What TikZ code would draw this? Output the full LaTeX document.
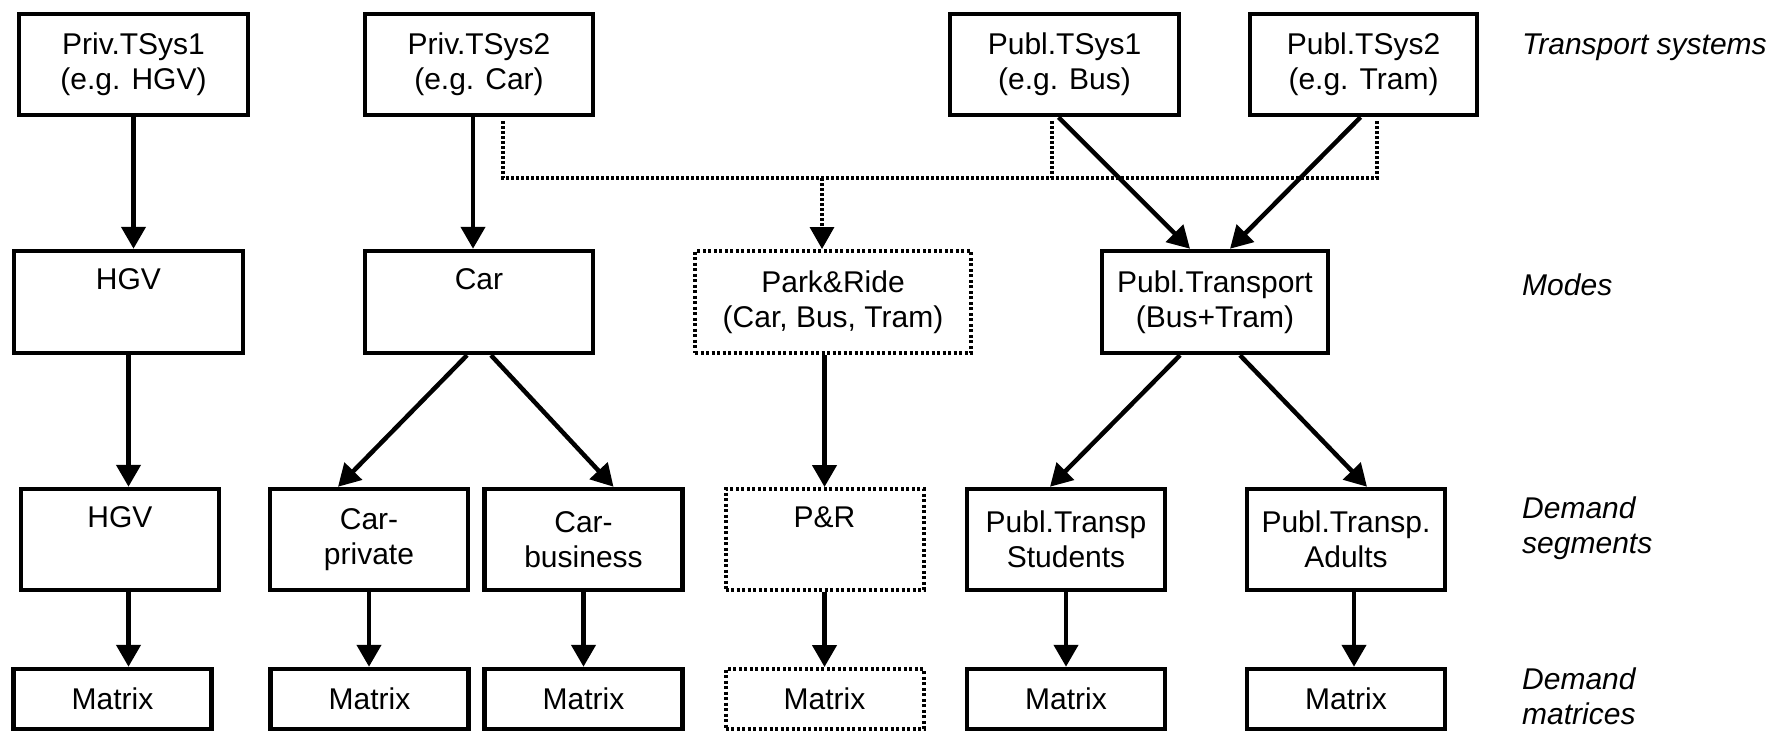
\documentclass[tikz,border=0pt]{standalone}
\usepackage{fontspec}
\setmainfont{Liberation Sans}
\usetikzlibrary{positioning,arrows.meta}
\tikzstyle{box} = [rectangle, draw=black, line width=4.5pt, inner sep=0pt, align=center]
\tikzstyle{tsys} = [box, minimum height=101pt]
\tikzstyle{mode} = [box, minimum height=102pt]
\tikzstyle{seg} = [box, minimum width=198pt, minimum height=101pt]
\tikzstyle{mat} = [box, minimum width=198pt, minimum height=60pt]
\tikzstyle{pr} = [dash pattern=on 3pt off 2.5pt, line width=4pt]
\tikzstyle{arrow} = [draw, line width=4.5pt, -{Triangle[length=22pt,width=24pt]}]
\tikzstyle{dotline} = [draw, line width=3.5pt, dash pattern=on 3pt off 2pt]
\tikzstyle{level} = [anchor=base west, align=left, inner sep=0pt, font=\fontsize{30}{35}\selectfont\itshape]

\begin{document}
\begin{tikzpicture}[x=1pt, y=-1pt]
    \tikzstyle{every node}=[font=\fontsize{30}{35}\selectfont]
    \useasboundingbox (0,0) rectangle (1787,733);

    % transport systems
    \node (tsysA) [tsys, minimum width=229pt] at (133.5,64.5) {Priv.TSys1\\(e.g. HGV)};
    \node (tsysB) [tsys, minimum width=228pt] at (479,64.5) {Priv.TSys2\\(e.g. Car)};
    \node (tsysC) [tsys, minimum width=229pt] at (1064.5,64.5) {Publ.TSys1\\(e.g. Bus)};
    \node (tsysD) [tsys, minimum width=227pt] at (1363.5,64.5) {Publ.TSys2\\(e.g. Tram)};

    % modes
    \node (modeHGV) [mode, minimum width=229pt] at (128.5,302) {HGV\\\strut};
    \node (modeCar) [mode, minimum width=228pt] at (479,302) {Car\\\strut};
    \node (modePR) [mode, pr, minimum width=276pt] at (833,302) {Park\&Ride\\(Car, Bus, Tram)};
    \node (modePT) [mode, minimum width=226pt] at (1215,302) {Publ.Transport\\(Bus+Tram)};

    % demand segments
    \node (segHGV) [seg] at (120,539.5) {HGV\\\strut};
    \node (segCarP) [seg] at (369,539.5) {Car-\\private};
    \node (segCarB) [seg] at (583.5,539.5) {Car-\\business};
    \node (segPR) [seg, pr] at (824.5,539.5) {P\&R\\\strut};
    \node (segPTS) [seg] at (1066,539.5) {Publ.Transp\\Students};
    \node (segPTA) [seg] at (1346,539.5) {Publ.Transp.\\Adults};

    % demand matrices
    \node (matHGV) [mat] at (112.5,699) {Matrix};
    \node (matCarP) [mat] at (369.5,699) {Matrix};
    \node (matCarB) [mat] at (583.5,699) {Matrix};
    \node (matPR) [mat, pr] at (824.5,699) {Matrix};
    \node (matPTS) [mat] at (1066,699) {Matrix};
    \node (matPTA) [mat] at (1346,699) {Matrix};

    \node (lvSys) [level] at (1522,55) {Transport systems};
    \node (lvMode) [level] at (1522,295) {Modes};
    \node (lvSeg) [level] at (1522,553) {Demand\\segments};
    \node (lvMat) [level] at (1522,724) {Demand\\matrices};

    \draw [arrow] (tsysA.south) -- (tsysA.south |- modeHGV.north);
    \draw [arrow] (modeHGV.south) -- (modeHGV.south |- segHGV.north);
    \draw [arrow] (modeHGV.south |- segHGV.south) -- (modeHGV.south |- matHGV.north);

    \draw [arrow] ([xshift=-6pt]tsysB.south) -- ([xshift=-6pt]tsysB.south |- modeCar.north);
    \draw [arrow] ([xshift=-12pt]modeCar.south) -- ([xshift=-31pt]segCarP.north);
    \draw [arrow] ([xshift=12pt]modeCar.south) -- ([xshift=30pt]segCarB.north);
    \draw [arrow] (segCarP.south) -- (segCarP.south |- matCarP.north);
    \draw [arrow] (segCarB.south) -- (segCarB.south |- matCarB.north);

    \draw [arrow] (segPR.north |- modePR.south) -- (segPR.north);
    \draw [arrow] (segPR.south) -- (segPR.south |- matPR.north);

    \draw [arrow] ([xshift=-6pt]tsysC.south) -- ([xshift=-25pt]modePT.north);
    \draw [arrow] ([xshift=-3pt]tsysD.south) -- ([xshift=15pt]modePT.north);
    \draw [arrow] ([xshift=-35pt]modePT.south) -- ([xshift=-16pt]segPTS.north);
    \draw [arrow] ([xshift=25pt]modePT.south) -- ([xshift=21pt]segPTA.north);
    \draw [arrow] (segPTS.south) -- (segPTS.south |- matPTS.north);
    \draw [arrow] ([xshift=8pt]segPTA.south) -- ([xshift=8pt]segPTA.south |- matPTA.north);

    % park and ride feeders
    \coordinate (busL) at (503,178);
    \coordinate (busM) at (1052,178);
    \coordinate (busR) at (1377,178);
    \coordinate (busPR) at (822,178);
    \draw [dotline] ([yshift=-4pt]tsysB.south -| busL) -- (busL) -- (busR) -- ([yshift=-4pt]tsysD.south -| busR);
    \draw [dotline] ([yshift=-4pt]tsysC.south -| busM) -- (busM);
    \draw [dotline, -{Triangle[length=22pt,width=24pt]}] (busPR) -- (busPR |- modePR.north);

\end{tikzpicture}
\end{document}
